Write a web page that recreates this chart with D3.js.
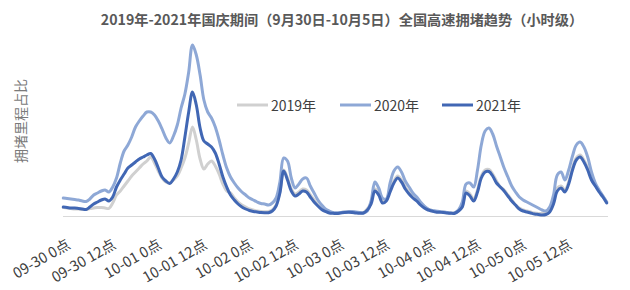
<!DOCTYPE html>
<html>
<head>
<meta charset="utf-8">
<script src="https://cdn.jsdelivr.net/npm/d3@7"></script>
<style>
  body { margin: 0; background: #fff; }
  svg { font-family: "Noto Sans CJK SC", "Noto Sans", sans-serif; }
</style>
</head>
<body>
<svg width="630" height="290"></svg>
<script>
// hourly congestion index, 09-30 0点 .. 10-05 23点
var series2019 = [8.5,8,7.5,7,7,6.5,6.5,7.5,8,8.5,8.5,8,7.5,13,21,25,30,35,40,44,48,52,55,59,
  53,45,38,34,33,36,40,48,58,73,89,76,57,47,52,55,50,42,32,25,23,18,14,11,
  9,7,6,5,4.5,4.3,4.5,6,11,24,46,38,27,22,24,27,26,21,16,11,7.5,5,3.5,3.2,
  3,3.5,4,4.2,4,3.5,3.2,3.5,7,13.5,27,23,15,16.5,26,35,40,36,29,24,20,17,13,9.5,
  7,5.5,4.5,4.2,4,3.5,3.2,3.2,5.5,10,25,22,17,26,40,46,46.5,42,35,29,26,21,16,11,
  8,6,5,4,3,2.5,2.5,3,5.5,14,28,30,26,34,48,58,61,56,48,38,31,25,20,14];

var series2020 = [18,17.5,17,16.5,16,15,14.5,17,21,23,25,26,24,29,38,53,65,71,79,89,95,100,104,104,
  101,95,87,78,73,80,91,108,122,144,171,161,141,116,104,98,89,76,61,48,39,33,28,24,
  21,18,16,14,12.5,12,11,13,18,34,58,55,38,28,32,37,38,30,23,16,11,7,5,3.5,
  3.3,3.5,4,4.3,4.5,4,3.5,3,5,15,34,28,18,17,33,45,49,44,35,29,23,19,14,10,
  7,5.5,5,4.5,4,3.5,3,3,6,14,32,33,29,46,71,85,88,82,70,59,48,39,30,24,
  19,16,14,12,10,8,6,5,9,21,41,44,36,46,60,71,74,69,59,44,33,26,20,14];

var series2021 = [9,8.5,8,8,7.5,7,6.5,9,12,14,16,17,15,19,29,36,42,48,51,54,57,59,61,62.5,
  57,48,39,35,32.5,37,44,56,79,104,124,111,88,75,72,69,63,52,39,29,21,16,12,9,
  7,5.5,4.5,4,3.5,3.3,3.3,5,10,23,45,36,25,20,22,25,24,19,14,10,6.5,4.5,3,2.7,
  2.5,3,3.5,3.7,3.5,3,2.7,3,6,12,25,21,13,15,24,33,38,34,27,22,18,15,11,8,
  6,5,4,3.7,3.5,3,2.7,2.7,5,9,23,20,15,24,38,44,44.5,40,33,29,25,20,15,11,
  7,5,4,3,2,1.5,1,1.5,4,12,25,28,24,32,46,56,59,54,46,36,30,24,19,13];

var seriesNames = ["2019年", "2020年", "2021年"];
var seriesColors = ["#d0d0d0", "#8ea8d6", "#4167b4"];

var tickHours = [0, 12, 24, 36, 48, 60, 72, 84, 96, 108, 120, 132];
var tickLabels = ["09-30 0点", "09-30 12点", "10-01 0点", "10-01 12点", "10-02 0点", "10-02 12点",
  "10-03 0点", "10-03 12点", "10-04 0点", "10-04 12点", "10-05 0点", "10-05 12点"];

var svg = d3.select("svg");

var xScale = d3.scaleLinear()
  .domain([0, 143])
  .range([63.3, 606.7]);

var yScale = d3.scaleLinear()
  .domain([0, 200])
  .range([216, 16]);

svg.append("text")
  .text("2019年-2021年国庆期间（9月30日-10月5日）全国高速拥堵趋势（小时级）")
  .attr("x", 342)
  .attr("y", 19)
  .attr("text-anchor", "middle")
  .attr("dominant-baseline", "central")
  .style("font-size", "14.2px")
  .style("font-weight", "bold")
  .style("fill", "#595959");

svg.append("text")
  .text("拥堵里程占比")
  .attr("transform", "translate(20,121) rotate(-90)")
  .attr("text-anchor", "middle")
  .attr("dominant-baseline", "central")
  .style("font-size", "14px")
  .style("fill", "#7a7a7a");

var xAxis = d3.axisBottom(xScale)
  .tickValues(tickHours)
  .tickSize(0)
  .tickFormat(function(d, i) { return tickLabels[i]; });

var axisG = svg.append("g")
  .attr("transform", "translate(0,216)")
  .call(xAxis);

axisG.select(".domain")
  .attr("d", "M63,0.5H608")
  .style("stroke", "#d9d9d9");

axisG.selectAll("text")
  .attr("x", 0)
  .attr("y", 0)
  .attr("dy", "0.35em")
  .attr("text-anchor", "end")
  .attr("transform", "translate(5,27) rotate(-30)")
  .style("font-family", "\"Noto Sans CJK SC\", sans-serif")
  .style("font-size", "14.5px")
  .style("fill", "#404040");

var line = d3.line()
  .x(function(d, i) { return xScale(i); })
  .y(function(d) { return yScale(d); })
  .curve(d3.curveCatmullRom.alpha(0.5));

[series2019, series2020, series2021].forEach(function(s, k) {
  svg.append("path")
    .datum(s)
    .attr("d", line)
    .attr("fill", "none")
    .attr("stroke", seriesColors[k])
    .attr("stroke-width", 3)
    .attr("stroke-linejoin", "round")
    .attr("stroke-linecap", "round");
});

// legend
var legendX = [237, 340, 442];
var legend = svg.append("g");
seriesNames.forEach(function(name, k) {
  legend.append("line")
    .attr("x1", legendX[k])
    .attr("x2", legendX[k] + 31)
    .attr("y1", 105)
    .attr("y2", 105)
    .attr("stroke", seriesColors[k])
    .attr("stroke-width", 3);
  legend.append("text")
    .text(name)
    .attr("x", legendX[k] + 34)
    .attr("y", 105)
    .attr("dominant-baseline", "central")
    .style("font-size", "14px")
    .style("fill", "#404040");
});
</script>
</body>
</html>
